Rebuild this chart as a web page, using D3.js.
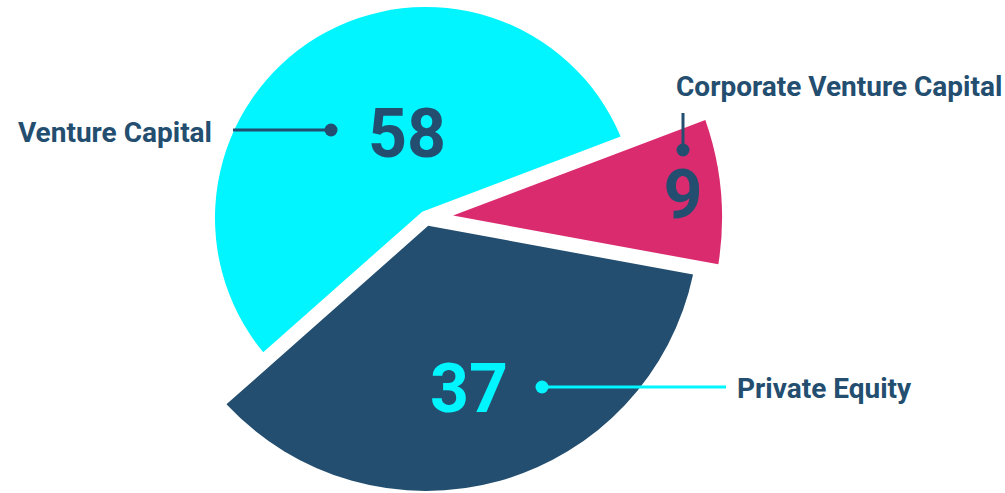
<!DOCTYPE html>
<html>
<head>
<meta charset="utf-8">
<script src="https://cdn.jsdelivr.net/npm/d3@7"></script>
<style>
  html, body { margin: 0; padding: 0; background: #ffffff; }
  svg { display: block; font-family: Roboto, "Noto Sans", sans-serif; }
</style>
</head>
<body>
<svg id="chart" width="1005" height="493"></svg>
<script>
// ---- data ----
const categories = ["Venture Capital", "Corporate Venture Capital", "Private Equity"];
const values = [58, 9, 37];
const colors = ["#00F5FF", "#DB2B6F", "#234E6F"];
const valueColors = ["#234E6F", "#234E6F", "#00F5FF"];
const connectorColors = ["#234E6F", "#234E6F", "#00F5FF"];

// ---- layout ----
const W = 1005, H = 493;
const cx = 426, cy = 218;
const radii = [211, 296, 273];     // per-slice outer radius
const halfGap = 7.3;               // half width of the gap between slices
const startDeg = -131.5;

const svg = d3.select("#chart");
const g = svg.append("g").attr("transform", `translate(${cx},${cy})`);

const pie = d3.pie().sort(null).value(d => d)
  .startAngle(startDeg * Math.PI / 180)
  .endAngle(startDeg * Math.PI / 180 + 2 * Math.PI);
const arcs = pie(values);

function slicePath(a, r) {
  const a0 = a.startAngle, a1 = a.endAngle;
  const th = a1 - a0, m = (a0 + a1) / 2;
  const d = halfGap / Math.sin(th / 2);
  const p = d3.path();
  p.moveTo(d * Math.sin(m), -d * Math.cos(m));
  const off = Math.asin(halfGap / r);
  p.arc(0, 0, r, a0 + off - Math.PI / 2, a1 - off - Math.PI / 2);
  p.closePath();
  return p.toString();
}

g.selectAll("path.slice").data(arcs).join("path")
  .attr("class", "slice")
  .attr("d", (a, i) => slicePath(a, radii[i]))
  .attr("fill", (a, i) => colors[i]);

// ---- annotations (positions relative to the pie centre) ----
const ann = [
  { value: [-19, -61], dot: [-95, -88], line: [[-193, -88], [-95, -88]], label: [-214, -76], anchor: "end" },
  { value: [257, 0],   dot: [257, -68], line: [[257, -105], [257, -68]], label: [250, -122], anchor: "start" },
  { value: [43, 194],  dot: [116, 169], line: [[116, 169], [300, 169]],  label: [311, 180], anchor: "start" }
];

const ag = g.append("g");
arcs.forEach((a, i) => {
  const A = ann[i];
  ag.append("line")
    .attr("x1", A.line[0][0]).attr("y1", A.line[0][1])
    .attr("x2", A.line[1][0]).attr("y2", A.line[1][1])
    .attr("stroke", connectorColors[i]).attr("stroke-width", 3);
  ag.append("circle")
    .attr("cx", A.dot[0]).attr("cy", A.dot[1]).attr("r", 6.5)
    .attr("fill", connectorColors[i]);
  ag.append("text")
    .attr("x", A.value[0]).attr("y", A.value[1])
    .attr("text-anchor", "middle")
    .attr("font-size", 68).attr("font-weight", 700)
    .attr("fill", valueColors[i])
    .text(values[i]);
  ag.append("text")
    .attr("x", A.label[0]).attr("y", A.label[1])
    .attr("text-anchor", A.anchor)
    .attr("font-size", 28).attr("font-weight", 700)
    .attr("fill", "#234E6F")
    .text(categories[i]);
});
</script>
</body>
</html>
